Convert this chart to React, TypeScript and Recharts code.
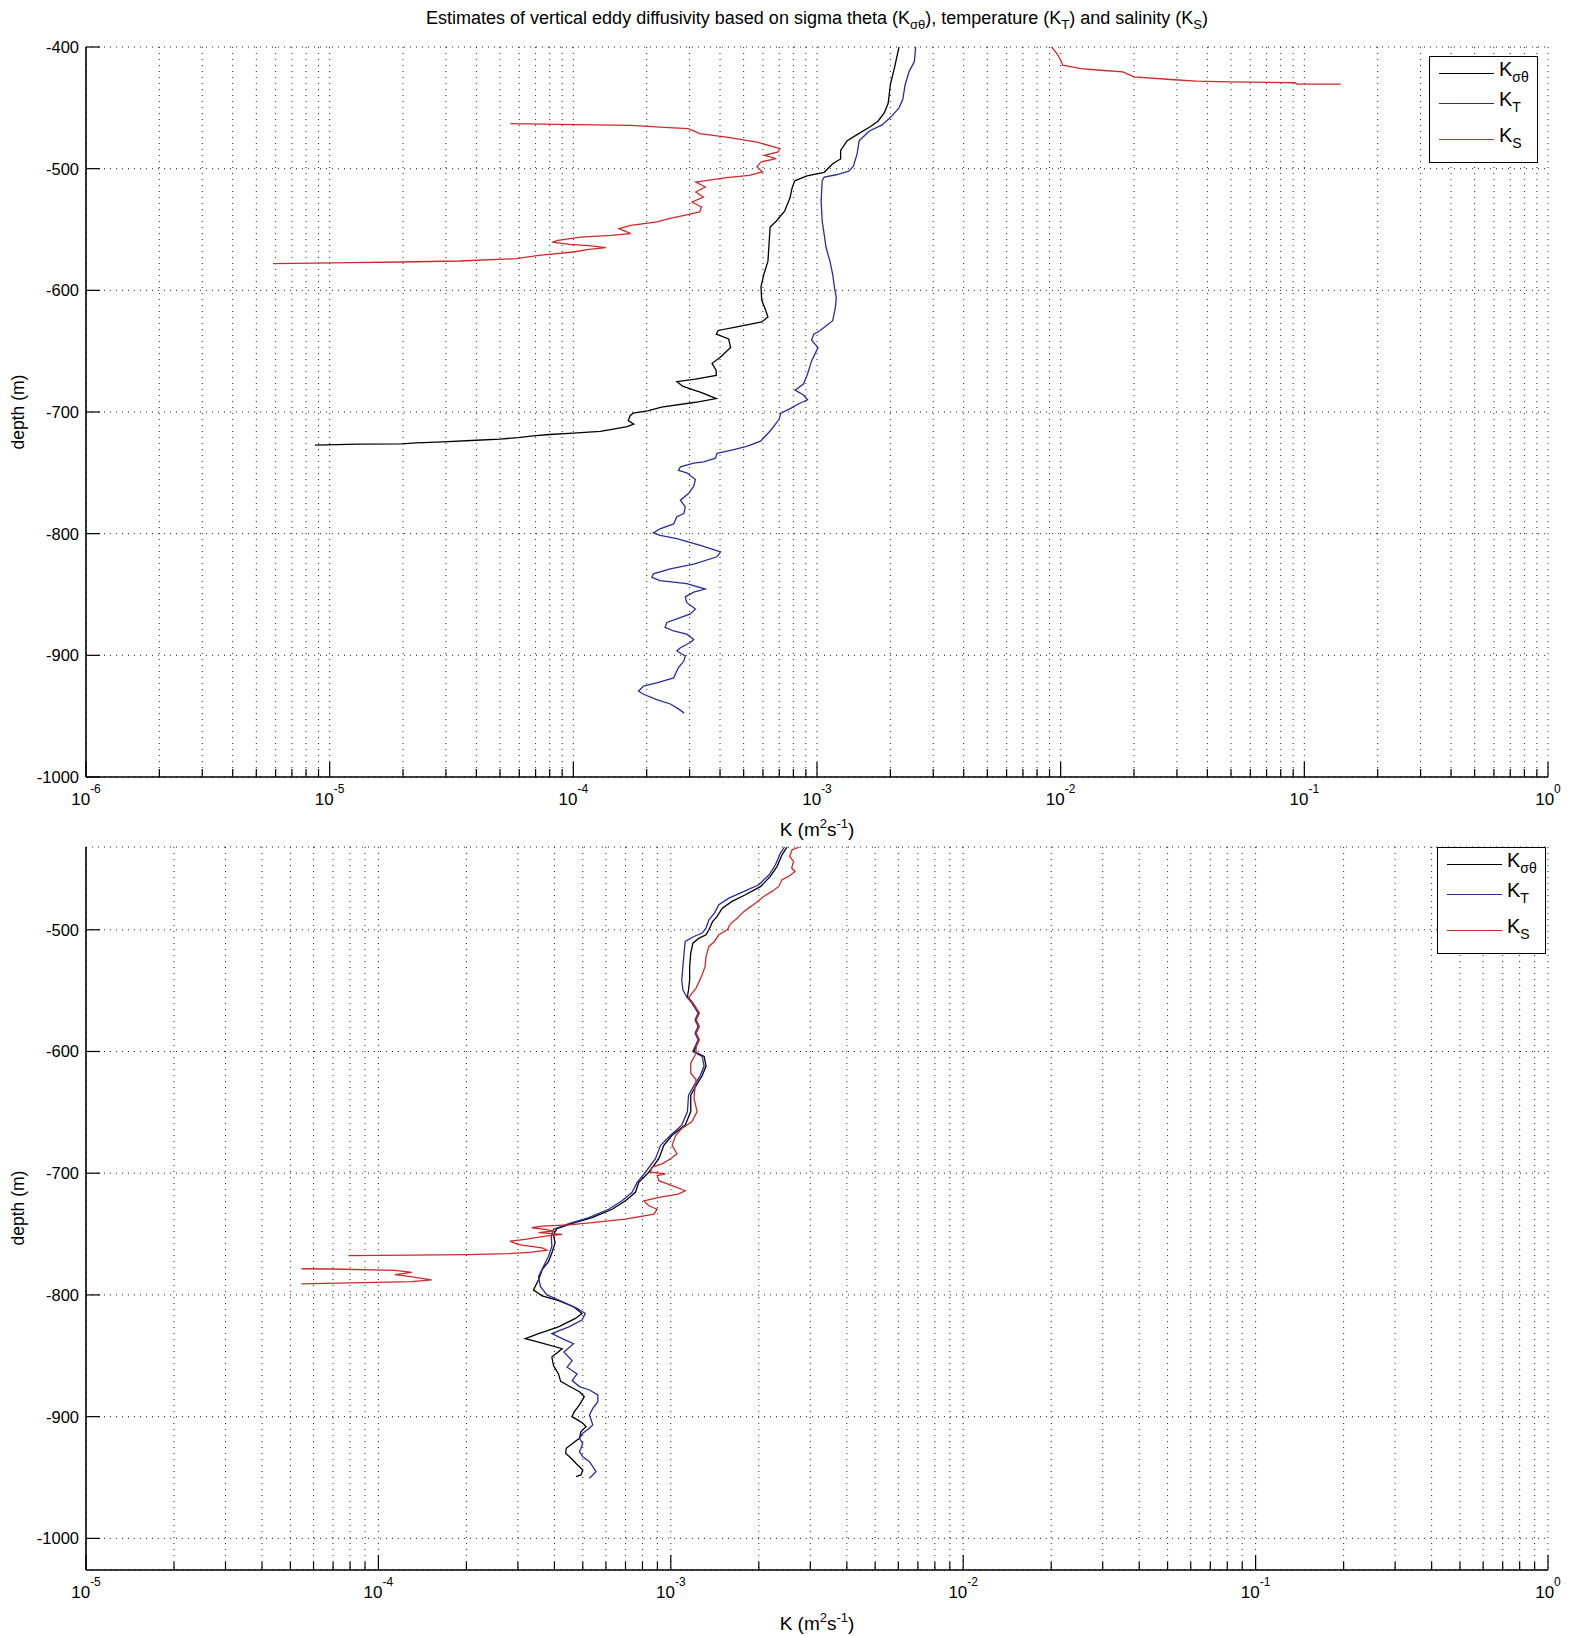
import React from 'react';
import { CartesianGrid, Line, LineChart, XAxis, YAxis } from 'recharts';

const FONT = '"Liberation Sans", Arial, Helvetica, sans-serif';
const BLACK = '#000000';
const BLUE = '#2b2b9e';
const RED = '#d02828';

// axis ticks
const topDecades = [1e-6, 1e-5, 1e-4, 1e-3, 1e-2, 1e-1, 1];
const bottomDecades = [1e-5, 1e-4, 1e-3, 1e-2, 1e-1, 1];
const topDepthTicks = [-1000, -900, -800, -700, -600, -500, -400];
const bottomDepthTicks = [-1000, -900, -800, -700, -600, -500];
const topDepthDomain = [-1000, -400];
const bottomDepthDomain = [-1026, -432];

// ---- upper panel: [depth (m), K (m2/s)]
const topSigma: [number, number][] = [
  [-400, 2.17e-3], [-417, 2.08e-3], [-431, 2.0e-3], [-446, 1.96e-3], [-454, 1.89e-3],
  [-461, 1.78e-3], [-466, 1.64e-3], [-472, 1.46e-3], [-477, 1.33e-3], [-485, 1.25e-3],
  [-492, 1.25e-3], [-496, 1.16e-3], [-503, 1.07e-3], [-506, 9.1e-4], [-510, 8.1e-4],
  [-516, 7.9e-4], [-524, 7.75e-4], [-535, 7.36e-4], [-543, 6.81e-4], [-548, 6.42e-4],
  [-559, 6.37e-4], [-576, 6.29e-4], [-587, 6.05e-4], [-597, 5.89e-4], [-608, 5.93e-4],
  [-617, 6.17e-4], [-622, 6.29e-4], [-626, 5.93e-4], [-630, 4.69e-4], [-633, 3.93e-4],
  [-636, 3.86e-4], [-640, 4.34e-4], [-647, 4.42e-4], [-655, 4.01e-4], [-660, 3.71e-4],
  [-666, 3.86e-4], [-670, 3.86e-4], [-673, 3.17e-4], [-675, 2.66e-4], [-679, 2.82e-4],
  [-684, 3.36e-4], [-689, 3.86e-4], [-692, 3.17e-4], [-696, 2.3e-4], [-699, 2.02e-4],
  [-701, 1.76e-4], [-703, 1.71e-4], [-707, 1.68e-4], [-710, 1.77e-4], [-712, 1.66e-4],
  [-714, 1.46e-4], [-716, 1.29e-4], [-717.4, 1.0e-4], [-718.5, 8.0e-5], [-719.6, 6.85e-5],
  [-721, 5.94e-5], [-722.3, 5.0e-5], [-723.2, 4.0e-5], [-724.5, 2.92e-5], [-725.3, 2.27e-5],
  [-726.2, 1.97e-5], [-726.4, 1.31e-5], [-727.2, 8.7e-6],
];

const topTemp: [number, number][] = [
  [-400, 2.54e-3], [-412, 2.51e-3], [-420, 2.39e-3], [-431, 2.3e-3], [-443, 2.25e-3],
  [-450, 2.17e-3], [-458, 2.0e-3], [-464, 1.85e-3], [-469, 1.64e-3], [-477, 1.49e-3],
  [-488, 1.46e-3], [-498, 1.41e-3], [-502, 1.35e-3], [-505, 1.2e-3], [-507, 1.07e-3],
  [-510, 1.05e-3], [-527, 1.04e-3], [-543, 1.05e-3], [-554, 1.07e-3], [-565, 1.09e-3],
  [-576, 1.13e-3], [-587, 1.16e-3], [-598, 1.18e-3], [-606, 1.2e-3], [-614, 1.19e-3],
  [-625, 1.16e-3], [-633, 1.03e-3], [-636, 9.7e-4], [-641, 9.5e-4], [-647, 1.01e-3],
  [-658, 9.5e-4], [-669, 9.14e-4], [-677, 8.8e-4], [-682, 8.13e-4], [-686, 8.8e-4],
  [-690, 9.15e-4], [-693, 8.45e-4], [-697, 7.8e-4], [-701, 7.1e-4], [-706, 6.99e-4],
  [-715, 6.46e-4], [-724, 5.87e-4], [-728, 5.18e-4], [-731, 4.56e-4], [-734, 3.89e-4],
  [-738, 3.83e-4], [-741, 3.43e-4], [-742, 3.12e-4], [-745, 2.75e-4], [-748, 2.7e-4],
  [-750, 2.92e-4], [-755.5, 3.17e-4], [-761, 3.12e-4], [-767, 2.97e-4], [-772.5, 2.75e-4],
  [-778, 2.88e-4], [-783.5, 2.84e-4], [-786, 2.66e-4], [-792, 2.58e-4], [-796, 2.27e-4],
  [-799.4, 2.13e-4], [-801.4, 2.27e-4], [-804, 2.66e-4], [-809.6, 3.32e-4], [-815, 4.02e-4],
  [-819, 3.89e-4], [-825, 3.12e-4], [-829, 2.5e-4], [-833, 2.13e-4], [-836, 2.1e-4],
  [-838.6, 2.27e-4], [-841, 2.92e-4], [-845.5, 3.48e-4], [-848, 3.12e-4], [-852, 2.88e-4],
  [-856.5, 2.92e-4], [-862, 3.17e-4], [-866, 3.02e-4], [-870, 2.66e-4], [-873, 2.42e-4],
  [-877, 2.38e-4], [-880, 2.58e-4], [-882.6, 2.92e-4], [-887, 3.12e-4], [-889.5, 3.02e-4],
  [-893.7, 2.75e-4], [-896.4, 2.66e-4], [-900.6, 2.88e-4], [-904.7, 2.84e-4], [-910, 2.7e-4],
  [-918.5, 2.58e-4], [-922.6, 2.2e-4], [-925.3, 1.94e-4], [-929.5, 1.85e-4], [-932, 1.94e-4],
  [-936.4, 2.2e-4], [-940, 2.5e-4], [-944, 2.7e-4], [-947.5, 2.85e-4],
];

// salinity estimate has gaps, so it comes in pieces
const topSalUpper: [number, number][] = [
  [-400, 9.17e-3], [-405.4, 9.66e-3], [-410.9, 1.0e-2], [-415, 1.02e-2], [-417.7, 1.21e-2],
  [-419.1, 1.46e-2], [-420.4, 1.8e-2], [-424.5, 2.0e-2], [-426.7, 2.83e-2], [-428.1, 3.6e-2],
  [-428.6, 4.92e-2], [-429.4, 9.16e-2], [-430.5, 9.33e-2], [-430.5, 0.141],
];

const topSalLower: [number, number][] = [
  [-463, 5.51e-5], [-463.6, 8.65e-5], [-464.4, 1.72e-4], [-466.3, 2.47e-4], [-467.1, 2.96e-4],
  [-469, 3.12e-4], [-471.2, 3.3e-4], [-474, 4.25e-4], [-478.1, 5.67e-4], [-483.6, 7.05e-4],
  [-486.3, 6.92e-4], [-489, 6.1e-4], [-491.8, 6.79e-4], [-494.5, 5.88e-4], [-498.6, 5.67e-4],
  [-502.7, 5.98e-4], [-505.5, 5.27e-4], [-507.4, 4.25e-4], [-511, 3.18e-4], [-515.1, 3.48e-4],
  [-519.2, 3.18e-4], [-523.3, 3.42e-4], [-527.4, 3.07e-4], [-531.5, 3.36e-4], [-535.6, 3.3e-4],
  [-538.4, 2.85e-4], [-541.1, 2.47e-4], [-543.8, 2.21e-4], [-546.6, 1.72e-4], [-549.3, 1.54e-4],
  [-553.4, 1.72e-4], [-554.8, 1.43e-4], [-556.2, 1.07e-4], [-558.9, 8.65e-5], [-560.3, 8.2e-5],
  [-562.2, 9.64e-5], [-563.3, 1.16e-4], [-564.9, 1.36e-4], [-566.3, 1.16e-4], [-568.5, 1.0e-4],
  [-571.2, 7.23e-5], [-574, 5.82e-5], [-575.9, 3.38e-5], [-576.7, 1.97e-5], [-577.3, 1.23e-5],
  [-578.1, 5.86e-6],
];

// ---- lower panel
const bottomSigma: [number, number][] = [
  [-432, 2.5e-3], [-438.4, 2.4e-3], [-447.9, 2.31e-3], [-456.2, 2.19e-3], [-464.4, 2.03e-3],
  [-471.2, 1.8e-3], [-476.7, 1.62e-3], [-482.2, 1.5e-3], [-489, 1.44e-3], [-493.2, 1.39e-3],
  [-500, 1.35e-3], [-504.1, 1.32e-3], [-506.8, 1.25e-3], [-511, 1.19e-3], [-519.2, 1.17e-3],
  [-530.1, 1.16e-3], [-541.1, 1.16e-3], [-549.3, 1.15e-3], [-554.8, 1.14e-3], [-560.3, 1.19e-3],
  [-564.4, 1.22e-3], [-568.5, 1.25e-3], [-574, 1.22e-3], [-579.5, 1.25e-3], [-585, 1.22e-3],
  [-590.4, 1.25e-3], [-596, 1.22e-3], [-600, 1.2e-3], [-604, 1.3e-3], [-612, 1.32e-3],
  [-620, 1.28e-3], [-628, 1.22e-3], [-636, 1.17e-3], [-649.4, 1.17e-3], [-660.5, 1.12e-3],
  [-668.8, 1.01e-3], [-677.1, 9.47e-4], [-688.1, 9.1e-4], [-699.2, 8.41e-4], [-707.5, 7.77e-4],
  [-715.7, 7.57e-4], [-722.7, 7.0e-4], [-729.6, 6.3e-4], [-736.5, 5.38e-4], [-741.2, 4.6e-4],
  [-745.6, 4.08e-4], [-750.3, 3.97e-4], [-757.2, 4.02e-4], [-765.5, 3.92e-4], [-772.4, 3.82e-4],
  [-779.3, 3.63e-4], [-787.6, 3.53e-4], [-795.9, 3.39e-4], [-800.8, 3.63e-4], [-804.7, 4.13e-4],
  [-809.7, 4.65e-4], [-815.2, 4.97e-4], [-819.3, 4.72e-4], [-826.2, 4.13e-4], [-831.8, 3.53e-4],
  [-835.9, 3.18e-4], [-838.7, 3.53e-4], [-844.2, 4.25e-4], [-851.1, 3.92e-4], [-858, 3.97e-4],
  [-864.9, 4.13e-4], [-871, 4.2e-4], [-875, 4.5e-4], [-879.5, 4.87e-4], [-883.6, 5.06e-4],
  [-890.4, 4.87e-4], [-895.9, 4.68e-4], [-900, 4.59e-4], [-902.7, 4.8e-4], [-905.5, 5.0e-4],
  [-908.2, 5.13e-4], [-912.3, 4.93e-4], [-917.8, 4.87e-4], [-921.9, 4.62e-4], [-926, 4.39e-4],
  [-930.1, 4.37e-4], [-934.2, 4.56e-4], [-939.7, 4.8e-4], [-943.8, 5.0e-4], [-947.9, 4.93e-4],
  [-949.3, 4.74e-4],
];

const bottomTemp: [number, number][] = [
  [-432, 2.45e-3], [-437, 2.37e-3], [-446.6, 2.28e-3], [-454.8, 2.17e-3], [-463, 2.0e-3],
  [-468.5, 1.78e-3], [-474, 1.58e-3], [-479.5, 1.46e-3], [-486.3, 1.41e-3], [-491.8, 1.35e-3],
  [-498.6, 1.32e-3], [-502.7, 1.28e-3], [-505.5, 1.2e-3], [-509.6, 1.12e-3], [-519.2, 1.11e-3],
  [-530.1, 1.1e-3], [-541.1, 1.09e-3], [-549.3, 1.1e-3], [-554.8, 1.13e-3], [-560.3, 1.18e-3],
  [-564.4, 1.21e-3], [-568.5, 1.24e-3], [-574, 1.21e-3], [-579.5, 1.24e-3], [-585, 1.21e-3],
  [-590.4, 1.24e-3], [-596, 1.21e-3], [-600, 1.19e-3], [-604, 1.28e-3], [-612, 1.3e-3],
  [-620, 1.26e-3], [-628, 1.2e-3], [-636, 1.15e-3], [-649.4, 1.14e-3], [-660.5, 1.09e-3],
  [-668.8, 9.98e-4], [-677.1, 9.23e-4], [-688.1, 8.86e-4], [-699.2, 8.19e-4], [-707.5, 7.67e-4],
  [-715.7, 7.37e-4], [-722.7, 6.81e-4], [-729.6, 6.13e-4], [-736.5, 5.24e-4], [-741.4, 4.48e-4],
  [-746.1, 3.97e-4], [-751.7, 3.9e-4], [-759.9, 3.92e-4], [-768.2, 3.82e-4], [-776.5, 3.67e-4],
  [-784.8, 3.53e-4], [-793.1, 3.58e-4], [-800, 3.77e-4], [-805.5, 4.25e-4], [-811, 4.78e-4],
  [-815.2, 5.1e-4], [-820.7, 4.97e-4], [-826.2, 4.48e-4], [-831.8, 3.92e-4], [-835.9, 4.25e-4],
  [-840.1, 4.65e-4], [-847, 4.31e-4], [-853.9, 4.6e-4], [-859.4, 4.42e-4], [-864.9, 4.78e-4],
  [-870.4, 4.6e-4], [-875.3, 4.87e-4], [-878.1, 5.27e-4], [-882.2, 5.63e-4], [-887.7, 5.63e-4],
  [-893.2, 5.41e-4], [-898.6, 5.27e-4], [-902.7, 5.34e-4], [-906.8, 5.41e-4], [-909.6, 5.27e-4],
  [-913.7, 5.0e-4], [-917.8, 4.87e-4], [-921.9, 5.0e-4], [-926, 4.93e-4], [-928.8, 4.87e-4],
  [-932.9, 5.0e-4], [-937, 5.27e-4], [-941.1, 5.41e-4], [-945.2, 5.55e-4], [-947.9, 5.41e-4],
  [-950.7, 5.27e-4],
];

const bottomSalUpper: [number, number][] = [
  [-432, 2.76e-3], [-434.2, 2.6e-3], [-439.7, 2.55e-3], [-443.8, 2.63e-3], [-449.3, 2.59e-3],
  [-452.1, 2.66e-3], [-456.2, 2.53e-3], [-458.9, 2.4e-3], [-464.4, 2.34e-3], [-468.5, 2.22e-3],
  [-472.6, 2.08e-3], [-476.7, 1.98e-3], [-480.8, 1.88e-3], [-484.9, 1.78e-3], [-490.4, 1.69e-3],
  [-495.1, 1.6e-3], [-500, 1.56e-3], [-504.1, 1.46e-3], [-509.6, 1.41e-3], [-513.7, 1.35e-3],
  [-521.9, 1.32e-3], [-530.1, 1.31e-3], [-537, 1.28e-3], [-542.5, 1.25e-3], [-547.9, 1.22e-3],
  [-553.4, 1.17e-3], [-556.2, 1.15e-3], [-560.3, 1.19e-3], [-564.4, 1.22e-3], [-568.5, 1.25e-3],
  [-574, 1.22e-3], [-579.5, 1.25e-3], [-585, 1.22e-3], [-590.4, 1.25e-3], [-596, 1.22e-3],
  [-601.4, 1.22e-3], [-609.6, 1.17e-3], [-617.8, 1.17e-3], [-623, 1.22e-3], [-630.1, 1.21e-3],
  [-638.4, 1.2e-3], [-649.4, 1.23e-3], [-657.7, 1.18e-3], [-663.3, 1.09e-3], [-668.8, 1.04e-3],
  [-677.1, 1.01e-3], [-684, 1.05e-3], [-688.1, 9.98e-4], [-692.3, 9.34e-4], [-695, 8.63e-4],
  [-699.2, 8.51e-4], [-700.6, 9.59e-4], [-701.9, 8.98e-4], [-706.1, 9.1e-4], [-710.2, 1.01e-3],
  [-714.4, 1.12e-3], [-717.1, 1.06e-3], [-719.9, 9.1e-4], [-722.7, 8.09e-4], [-726.8, 8.41e-4],
  [-729.6, 8.98e-4], [-733.7, 8.75e-4], [-737.8, 7.0e-4], [-740.6, 5.38e-4], [-742.5, 4.48e-4],
  [-743.4, 3.63e-4], [-744.8, 3.35e-4], [-746.1, 3.72e-4], [-747.5, 3.97e-4], [-748.9, 3.53e-4],
  [-750.3, 4.25e-4], [-751.7, 3.72e-4], [-754.4, 3.18e-4], [-755.8, 2.82e-4], [-758.6, 3.01e-4],
  [-761.3, 3.63e-4], [-763.3, 3.77e-4], [-764.9, 3.35e-4], [-766, 2.79e-4], [-766.9, 2.03e-4],
  [-767.7, 7.9e-5],
];

const bottomSalLower: [number, number][] = [
  [-778.5, 5.46e-5], [-778.7, 6.91e-5], [-779.8, 1.14e-4], [-781.5, 1.3e-4], [-783.4, 1.14e-4],
  [-784.8, 1.27e-4], [-787.6, 1.52e-4], [-789, 1.3e-4], [-790.9, 5.46e-5],
];

const toPoints = (rows: [number, number][]) => rows.map(([d, k]) => ({ k, d }));

// minor log ticks 2..9 within every decade
const logTicks = (decades: number[]) => {
  const out: number[] = [];
  decades.forEach((d, i) => {
    out.push(d);
    if (i < decades.length - 1) for (let m = 2; m <= 9; m++) out.push(d * m);
  });
  return out;
};

const isDecade = (v: number) => {
  const l = Math.log10(v);
  return Math.abs(l - Math.round(l)) < 1e-6;
};

const BottomTick = (props: any) => {
  const { x, y, payload } = props;
  const major = isDecade(payload.value);
  const exp = Math.round(Math.log10(payload.value));
  return (
    <g>
      <line x1={x} x2={x} y1={y} y2={y - (major ? 15 : 8)} stroke={BLACK} strokeWidth={1.2} />
      {major && (
        <text x={x} y={y + 28} textAnchor='middle' fontFamily={FONT} fontSize={17} fill={BLACK}>
          10
          <tspan dy={-12} fontSize={12}>
            {exp}
          </tspan>
        </text>
      )}
    </g>
  );
};

const TopTick = (props: any) => {
  const { x, y, payload } = props;
  const major = isDecade(payload.value);
  return <line x1={x} x2={x} y1={y} y2={y + (major ? 15 : 8)} stroke={BLACK} strokeWidth={1.2} />;
};

const LeftTick = (props: any) => {
  const { x, y, payload } = props;
  return (
    <g>
      <line x1={x} x2={x + 14} y1={y} y2={y} stroke={BLACK} strokeWidth={1.2} />
      <text x={x - 7} y={y + 6} textAnchor='end' fontFamily={FONT} fontSize={16.5} fill={BLACK}>
        {payload.value}
      </text>
    </g>
  );
};

const RightTick = (props: any) => {
  const { x, y } = props;
  return <line x1={x} x2={x - 14} y1={y} y2={y} stroke={BLACK} strokeWidth={1.2} />;
};

type Segment = { rows: [number, number][]; color: string };

type PanelProps = {
  top: number;
  height: number;
  xAxisHeight: number;
  decades: number[];
  depthTicks: number[];
  depthDomain: number[];
  segments: Segment[];
};

const Panel = ({ top, height, xAxisHeight, decades, depthTicks, depthDomain, segments }: PanelProps) => {
  const ticks = logTicks(decades);
  const xDomain = [decades[0], decades[decades.length - 1]];
  const axisLine = { stroke: BLACK, strokeWidth: 1.6 };
  return (
    <div style={{ position: 'absolute', left: 0, top }}>
      <LineChart width={1573} height={height} margin={{ top: 47, right: 25, bottom: 0, left: 0 }}>
        <CartesianGrid stroke='#222' strokeDasharray='1 5' strokeWidth={1} />
        <XAxis
          dataKey='k'
          type='number'
          scale='log'
          domain={xDomain}
          allowDataOverflow
          ticks={ticks}
          interval={0}
          height={xAxisHeight}
          tickSize={0}
          tickMargin={0}
          tickLine={false}
          axisLine={axisLine}
          tick={(p: any) => <BottomTick {...p} />}
        />
        <XAxis
          xAxisId='t'
          orientation='top'
          dataKey='k'
          type='number'
          scale='log'
          domain={xDomain}
          allowDataOverflow
          ticks={ticks}
          interval={0}
          height={0}
          tickSize={0}
          tickMargin={0}
          tickLine={false}
          axisLine={axisLine}
          tick={(p: any) => <TopTick {...p} />}
        />
        <YAxis
          type='number'
          domain={depthDomain}
          allowDataOverflow
          ticks={depthTicks}
          interval={0}
          width={86}
          tickSize={0}
          tickMargin={0}
          tickLine={false}
          axisLine={axisLine}
          tick={(p: any) => <LeftTick {...p} />}
        />
        <YAxis
          yAxisId='r'
          orientation='right'
          type='number'
          domain={depthDomain}
          allowDataOverflow
          ticks={depthTicks}
          interval={0}
          width={0}
          tickSize={0}
          tickMargin={0}
          tickLine={false}
          axisLine={axisLine}
          tick={(p: any) => <RightTick {...p} />}
        />
        {segments.map((s, i) => (
          <Line
            key={i}
            data={toPoints(s.rows)}
            dataKey='d'
            type='linear'
            stroke={s.color}
            strokeWidth={1.3}
            dot={false}
            activeDot={false}
            isAnimationActive={false}
          />
        ))}
      </LineChart>
    </div>
  );
};

const legendItems = [
  { color: BLACK, sub: 'σθ' },
  { color: BLUE, sub: 'T' },
  { color: RED, sub: 'S' },
];

const LegendBox = ({ left, top }: { left: number; top: number }) => (
  <div
    style={{
      position: 'absolute',
      left,
      top,
      width: 109,
      height: 107,
      border: '1.5px solid #000',
      background: '#fff',
      boxSizing: 'border-box',
      fontFamily: FONT,
    }}
  >
    {legendItems.map((it, i) => (
      <div key={it.sub} style={{ position: 'absolute', left: 9, top: [16, 46, 82][i] - 12, height: 24, display: 'flex', alignItems: 'center' }}>
        <span style={{ display: 'inline-block', width: 55, height: 0, borderTop: `1.3px solid ${it.color}` }} />
        <span style={{ marginLeft: 5, fontSize: 20, lineHeight: '20px' }}>
          K<sub style={{ fontSize: 14, verticalAlign: '-6px' }}>{it.sub}</sub>
        </span>
      </div>
    ))}
  </div>
);

const KLabel = ({ y }: { y: number }) => (
  <text x={817} y={y} textAnchor='middle' fontFamily={FONT} fontSize={19} fill={BLACK}>
    K (m<tspan dy={-8} fontSize={13}>2</tspan>
    <tspan dy={8}>s</tspan>
    <tspan dy={-8} fontSize={13}>-1</tspan>
    <tspan dy={8}>)</tspan>
  </text>
);

export default function App() {
  return (
    <div style={{ position: 'absolute', left: 0, top: 0, width: 1573, height: 1636, background: '#fff', overflow: 'hidden' }}>
      <Panel
        top={0}
        height={847}
        xAxisHeight={70}
        decades={topDecades}
        depthTicks={topDepthTicks}
        depthDomain={topDepthDomain}
        segments={[
          { rows: topSigma, color: BLACK },
          { rows: topTemp, color: BLUE },
          { rows: topSalUpper, color: RED },
          { rows: topSalLower, color: RED },
        ]}
      />
      <Panel
        top={800}
        height={836}
        xAxisHeight={66}
        decades={bottomDecades}
        depthTicks={bottomDepthTicks}
        depthDomain={bottomDepthDomain}
        segments={[
          { rows: bottomSigma, color: BLACK },
          { rows: bottomTemp, color: BLUE },
          { rows: bottomSalUpper, color: RED },
          { rows: bottomSalLower, color: RED },
        ]}
      />
      <LegendBox left={1429} top={56} />
      <LegendBox left={1437} top={847} />
      <svg width={1573} height={1636} style={{ position: 'absolute', left: 0, top: 0, pointerEvents: 'none' }}>
        <text x={817} y={24} textAnchor='middle' fontFamily={FONT} fontSize={18} fill={BLACK}>
          Estimates of vertical eddy diffusivity based on sigma theta (K
          <tspan dy={5} fontSize={13}>σθ</tspan>
          <tspan dy={-5}>), temperature (K</tspan>
          <tspan dy={5} fontSize={13}>T</tspan>
          <tspan dy={-5}>) and salinity (K</tspan>
          <tspan dy={5} fontSize={13}>S</tspan>
          <tspan dy={-5}>)</tspan>
        </text>
        <KLabel y={836} />
        <KLabel y={1630} />
        <text transform='translate(24,412) rotate(-90)' textAnchor='middle' fontFamily={FONT} fontSize={17.5} fill={BLACK}>
          depth (m)
        </text>
        <text transform='translate(24,1208) rotate(-90)' textAnchor='middle' fontFamily={FONT} fontSize={17.5} fill={BLACK}>
          depth (m)
        </text>
      </svg>
    </div>
  );
}
